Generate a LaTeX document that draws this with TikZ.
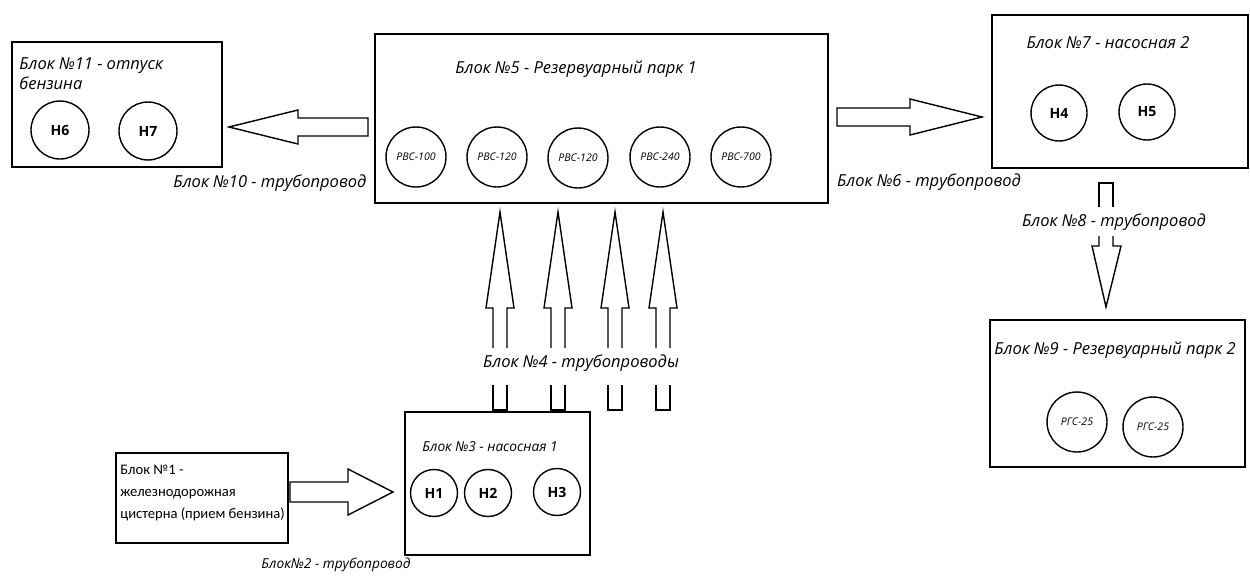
\documentclass[tikz,border=0pt]{standalone}
\usepackage{fontspec}
\setmainfont{Carlito}
\newfontfamily\labfont{Open Sans}
\tikzset{
  blok/.style={draw, line width=1pt, inner sep=0pt},
  tank/.style={draw, circle, line width=0.8pt, inner sep=0pt, minimum size=1.2cm,
    font=\labfont\itshape\fontsize{6}{7}\selectfont},
  pump/.style={draw, circle, line width=0.8pt, inner sep=0pt,
    font=\labfont\bfseries\fontsize{8}{9}\selectfont},
  lab/.style={inner sep=0pt, font=\labfont\itshape\fontsize{9.4}{11.5}\selectfont},
  smalllab/.style={lab, font=\labfont\itshape\fontsize{7.8}{9.5}\selectfont},
  pipe/.style={line width=0.8pt, line join=miter}
}
\begin{document}
\begin{tikzpicture}[x=0.02cm, y=-0.02cm]
\useasboundingbox (0,0) rectangle (1250,575);

% blocks
\node[blok, minimum width=4.2cm, minimum height=2.5cm] (b11) at (117,104.5) {};
\node[blok, minimum width=9.06cm, minimum height=3.38cm] (b5) at (601.5,118.5) {};
\node[blok, minimum width=5.12cm, minimum height=3.06cm] (b7) at (1120,91.5) {};
\node[blok, minimum width=5.1cm, minimum height=2.94cm] (b9) at (1117.5,393.5) {};
\node[blok, minimum width=3.44cm, minimum height=1.8cm] (b1) at (202,498) {};
\node[blok, minimum width=3.7cm, minimum height=2.86cm] (b3) at (497.5,483.5) {};

% block titles
\node[lab, anchor=north west, align=left] (t11) at (19,57) {Блок №11 - отпуск\\бензина};
\node[lab] (t5) at (576,69) {Блок №5 - Резервуарный парк 1};
\node[lab] (t7) at (1108,43) {Блок №7 - насосная 2};
\node[lab] (t9) at (1115,350) {Блок №9 - Резервуарный парк 2};
\node[smalllab] (t3) at (490,447) {Блок №3 - насосная 1};
\node[inner sep=0pt, anchor=west, align=left, font=\fontsize{8.3}{12.5}\selectfont] (t1) at (120,493)
  {Блок №1 -\\железнодорожная\\цистерна (прием бензина)};

% pipe labels
\node[lab] (t10) at (270,183) {Блок №10 - трубопровод};
\node[lab] (t6) at (929,182) {Блок №6 - трубопровод};
\node[lab] (t8) at (1114,222) {Блок №8 - трубопровод};
\node[lab] (t4) at (581,363) {Блок №4 - трубопроводы};
\node[smalllab] (t2) at (336,565) {Блок№2 - трубопровод};

% tanks and pumps
\node[pump, minimum size=1.16cm] (h6) at (60,130) {Н6};
\node[pump, minimum size=1.16cm] (h7) at (148,131) {Н7};
\node[tank] (r1) at (416,157) {РВС-100};
\node[tank] (r2) at (497,157) {РВС-120};
\node[tank] (r3) at (578,158) {РВС-120};
\node[tank] (r4) at (660,157) {РВС-240};
\node[tank] (r5) at (741,157) {РВС-700};
\node[pump, minimum size=1.12cm] (h4) at (1059,113) {Н4};
\node[pump, minimum size=1.12cm] (h5) at (1147,112) {Н5};
\node[tank] (g1) at (1077,422) {РГС-25};
\node[tank] (g2) at (1153,427) {РГС-25};
\node[pump, minimum size=0.94cm] (h1) at (434,493) {Н1};
\node[pump, minimum size=0.94cm] (h2) at (488,493) {Н2};
\node[pump, minimum size=0.94cm] (h3) at (557,492) {Н3};

% block 10
\draw[pipe] (368,118) -- (298,118) -- (298,110) -- (229,127) -- (298,144) -- (298,136) -- (368,136) -- cycle;
% block 6
\draw[pipe] (837,108) -- (910,108) -- (910,99) -- (982,117) -- (910,135) -- (910,126) -- (837,126) -- cycle;
% block 2
\draw[pipe] (290,482) -- (348,482) -- (348,469) -- (393,492) -- (348,515) -- (348,502) -- (290,502) -- cycle;
% block 8
\draw[pipe] (1099,207) -- (1099,183) -- (1113,183) -- (1113,207);
\draw[pipe] (1099,236) -- (1099,246) -- (1092,246) -- (1106,307) -- (1121,246) -- (1113,246) -- (1113,236);
% block 4
\draw[pipe] (493,348) -- (493,308) -- (486,308) -- (500,212) -- (514,308) -- (507,308) -- (507,348);
\draw[pipe] (493,385) -- (493,410) -- (507,410) -- (507,385);
\draw[pipe] (551,348) -- (551,308) -- (544,308) -- (558,212) -- (572,308) -- (565,308) -- (565,348);
\draw[pipe] (551,385) -- (551,410) -- (565,410) -- (565,385);
\draw[pipe] (608,348) -- (608,308) -- (601,308) -- (615,212) -- (629,308) -- (622,308) -- (622,348);
\draw[pipe] (608,385) -- (608,410) -- (622,410) -- (622,385);
\draw[pipe] (656,348) -- (656,308) -- (649,308) -- (663,212) -- (677,308) -- (670,308) -- (670,348);
\draw[pipe] (656,385) -- (656,410) -- (670,410) -- (670,385);
\end{tikzpicture}
\end{document}
